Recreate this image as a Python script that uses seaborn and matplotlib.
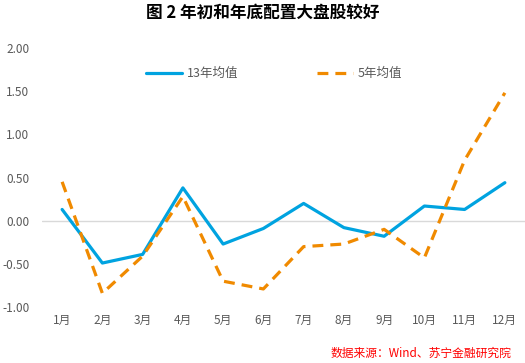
import matplotlib
matplotlib.use("Agg")
import matplotlib.pyplot as plt
import seaborn as sns
import pandas as pd

months = ["1月", "2月", "3月", "4月", "5月", "6月", "7月", "8月", "9月", "10月", "11月", "12月"]
avg13 = [0.13, -0.49, -0.39, 0.38, -0.27, -0.09, 0.20, -0.08, -0.18, 0.17, 0.13, 0.44]
avg5 = [0.45, -0.84, -0.41, 0.28, -0.70, -0.79, -0.30, -0.27, -0.10, -0.43, 0.70, 1.48]
series_names = ["13年均值", "5年均值"]
y_ticks = [-1.0, -0.5, 0.0, 0.5, 1.0, 1.5, 2.0]

sns.set_theme(style="white")
plt.rcParams["font.family"] = ["Noto Sans CJK SC", "DejaVu Sans"]
plt.rcParams["axes.unicode_minus"] = False

df = pd.DataFrame({
    "month": months * 2,
    "x": list(range(len(months))) * 2,
    "value": avg13 + avg5,
    "series": [series_names[0]] * len(months) + [series_names[1]] * len(months),
})

fig = plt.figure(figsize=(5.25, 3.63), dpi=100)
ax = fig.add_axes([0.08, 0.154, 0.92, 0.714])

sns.lineplot(
    data=df, x="x", y="value", hue="series", style="series",
    palette={series_names[0]: "#00A3E0", series_names[1]: "#F08A00"},
    dashes={series_names[0]: "", series_names[1]: (3.4, 2.2)},
    linewidth=2.3, ax=ax, legend=True,
)

ax.axhline(0, color="#D9D9D9", linewidth=1, zorder=0)
ax.set_xlim(-0.5, len(months) - 0.5)
ax.set_ylim(-1.0, 2.0)
ax.set_xticks(range(len(months)))
ax.set_xticklabels(months)
ax.set_yticks(y_ticks)
ax.set_yticklabels([f"{v:.2f}" for v in y_ticks])
ax.tick_params(axis="both", labelsize=8.5, colors="#595959", length=0)
ax.tick_params(axis="y", pad=9)
ax.tick_params(axis="x", pad=5)
ax.set_xlabel("")
ax.set_ylabel("")
for s in ax.spines.values():
    s.set_visible(False)

leg = ax.legend(
    loc="upper center", bbox_to_anchor=(0.48, 0.97), ncol=2, frameon=False,
    fontsize=9, handlelength=2.9, columnspacing=6.3, handletextpad=0.35,
)
for t in leg.get_texts():
    t.set_color("#595959")

fig.text(0.5, 0.965, "图 2 年初和年底配置大盘股较好", ha="center", va="center",
         fontsize=12, fontweight="bold", color="#000000")
fig.text(0.975, 0.028, "数据来源：Wind、苏宁金融研究院", ha="right", va="center",
         fontsize=8.5, color="#FF0000", style="italic")

fig.savefig("out.png", dpi=100)
